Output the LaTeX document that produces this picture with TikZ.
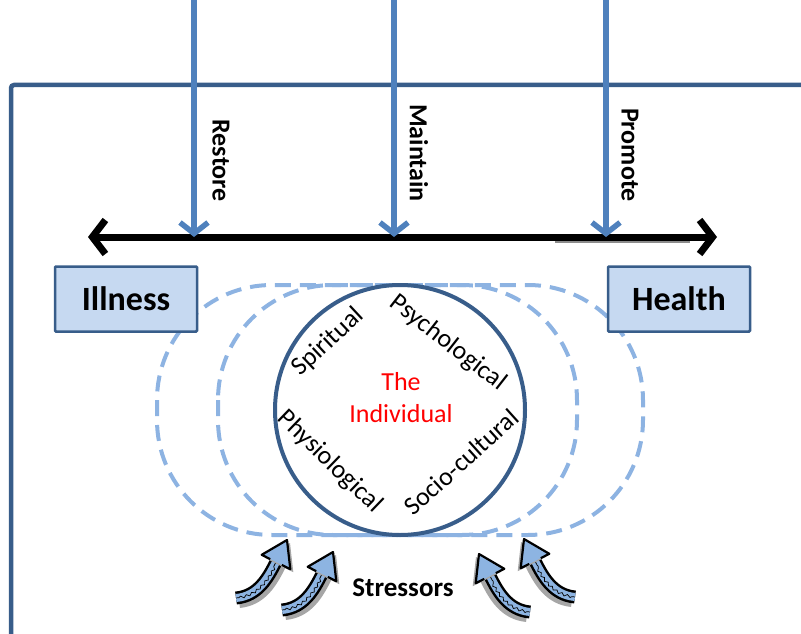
\documentclass[tikz,border=0pt]{standalone}
\usepackage{fontspec}
\setmainfont{Carlito}
\usetikzlibrary{arrows.meta,decorations.pathmorphing}

\definecolor{frameblue}{RGB}{56,93,138}
\definecolor{arrowblue}{RGB}{79,129,189}
\definecolor{dashblue}{RGB}{141,179,226}
\definecolor{boxfill}{RGB}{198,217,241}
\definecolor{stressfill}{RGB}{141,180,226}

% one hand-drawn stressor arrow, tail at the origin
\tikzset{
  stressor/.pic={
    \draw[black!35, line width=14pt, shift={(3,3)}] (0,0) .. controls (22,-2) and (32,-20) .. (40,-36);
    \draw[black, line width=13pt] (0,0) .. controls (22,-2) and (32,-20) .. (40,-36);
    \draw[stressfill, line width=8pt] (0,0) .. controls (22,-2) and (32,-20) .. (40,-36);
    \draw[decorate, decoration={snake, amplitude=1.2pt, segment length=6pt, pre length=3pt, post length=2pt}, line width=0.7pt]
      (0,0) .. controls (22,-2) and (32,-20) .. (40,-36);
    \fill[black!35] (28.7,-40.2) -- (54,-55) -- (57.3,-25.8) -- cycle;
    \fill[stressfill] (25.7,-43.2) -- (51,-58) -- (54.3,-28.8) -- cycle;
    \draw[black, line width=2.2pt, line join=round] (34.2,-38.9) -- (25.7,-43.2) -- (51,-58) -- (54.3,-28.8) -- (45.8,-33.1);
  }
}

\begin{document}
\begin{tikzpicture}[x=1pt, y=-1pt]
    \tikzstyle{frame_edge}=[frameblue, line width=4.5pt, rounded corners=3pt]
    \tikzstyle{care_arrow}=[arrowblue, line width=5.5pt, -{Straight Barb[length=11pt, width=28pt]}]
    \tikzstyle{care_label}=[font=\bfseries\fontsize{26}{26}\selectfont, rotate=-90, anchor=east, inner sep=0pt]
    \tikzstyle{state_box}=[draw=frameblue, fill=boxfill, line width=2.5pt, minimum width=142pt, minimum height=65pt, font=\bfseries\fontsize{34}{34}\selectfont, rounded corners=1pt]
    \tikzstyle{layer_ring}=[dashblue, line width=4pt, dash pattern=on 16pt off 9pt, rounded corners=115pt]
    \tikzstyle{aspect_label}=[font=\fontsize{26}{26}\selectfont, inner sep=0pt]

    \useasboundingbox (0,0) rectangle (801,634);

    % --- frame ---
    \draw[frame_edge] (11,640) -- (11,85) -- (810,85);

    % --- health continuum ---
    \coordinate (ill_end) at (88,237);
    \coordinate (health_end) at (717,237);
    \coordinate (restore_pt) at (194,237);
    \coordinate (maintain_pt) at (394,237);
    \coordinate (promote_pt) at (606,237);
    \draw[black!45, line width=5pt] (555,240) -- (690,240);
    \draw[line width=7pt, {Straight Barb[length=13pt, width=34pt]}-{Straight Barb[length=13pt, width=34pt]}] (ill_end) -- (health_end);

    % --- nursing actions ---
    \draw[care_arrow] (194,-5) -- (restore_pt);
    \draw[care_arrow] (394,-5) -- (maintain_pt);
    \draw[care_arrow] (606,-5) -- (promote_pt);
    \node[care_label] (restore) at (221,202) {Restore};
    \node[care_label] (maintain) at (419,202) {Maintain};
    \node[care_label] (promote) at (630,202) {Promote};

    % --- lines of defence ---
    \draw[layer_ring] (157,285) rectangle (643,535);
    \draw[layer_ring] (218,285) rectangle (577,535);

    % --- the individual ---
    \node[circle, draw=frameblue, fill=white, line width=4pt, minimum size=250pt, inner sep=0pt] (core) at (400,410) {};
    \node[align=center, text=red, font=\fontsize{26}{32}\selectfont] (individual) at (401,398) {The\\Individual};
    \node[aspect_label, rotate=43] (spiritual) at (328,342) {Spiritual};
    \node[aspect_label, rotate=-38] (psychological) at (448,343) {Psychological};
    \node[aspect_label, rotate=-44] (physiological) at (330,462) {Physiological};
    \node[aspect_label, rotate=42] (sociocultural) at (461,462) {Socio-cultural};

    % --- illness / health ---
    \node[state_box] (illness) at (126,299) {Illness};
    \node[state_box] (health) at (679,299) {Health};

    % --- stressors ---
    \pic at (236,598) {stressor};
    \pic at (282,610) {stressor};
    \pic[xscale=-1] at (530,612) {stressor};
    \pic[xscale=-1] at (575,597) {stressor};
    \node[font=\bfseries\fontsize{27}{27}\selectfont] (stressors) at (403,588) {Stressors};
\end{tikzpicture}
\end{document}
